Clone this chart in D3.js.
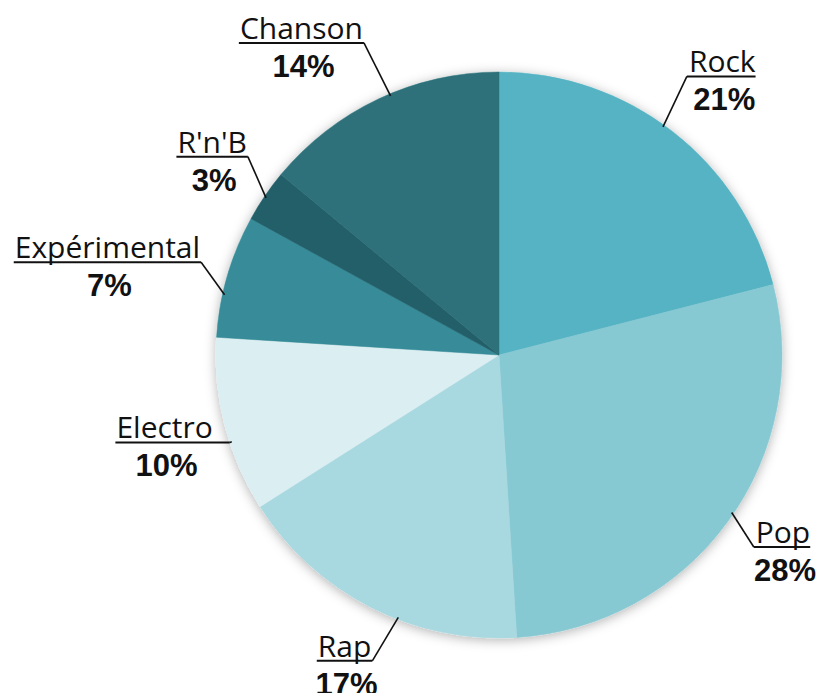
<!DOCTYPE html>
<html>
<head>
<meta charset="utf-8">
<script src="https://cdn.jsdelivr.net/npm/d3@7"></script>
<style>
  body { margin: 0; background: #fff; }
  .name { font-family: "Open Sans", sans-serif; font-size: 30px; fill: #111; }
  .pct { font-family: "Liberation Sans", Arial, sans-serif; font-weight: bold; font-size: 31px; fill: #111; }
</style>
</head>
<body>
<div id="chart"></div>
<script>
// data
let genres = ["Rock", "Pop", "Rap", "Electro", "Expérimental", "R'n'B", "Chanson"];
let shares = [21, 28, 17, 10, 7, 3, 14];
let colors = ["#54b3c3", "#86c9d3", "#a9d9e0", "#dbeef2", "#378c99", "#245f68", "#2d717a"];

// label layout: leader start angle, elbow angle (deg, clockwise from top), elbow radius
let leadA = [35.7, 124.1, 201, 252, 282.4, 304, 337.3];
let elbowA = [34, 127, 202.5, 252, 287.3, 308.3, 336.6];
let elbowR = [336, 319, 331, 283, 312, 320, 340];

let w = 820, h = 693;
let cx = 499, cy = 355, r = 283;

let svg = d3.select("#chart").append("svg")
    .attr("width", w)
    .attr("height", h);

let defs = svg.append("defs");
let f = defs.append("filter").attr("id", "shadow")
    .attr("x", "-20%").attr("y", "-20%").attr("width", "140%").attr("height", "140%");
f.append("feDropShadow")
    .attr("dx", 0).attr("dy", 2)
    .attr("stdDeviation", 6)
    .attr("flood-color", "#000")
    .attr("flood-opacity", 0.3);

let data = genres.map((g, i) => ({ name: g, value: shares[i], color: colors[i], la: leadA[i], ea: elbowA[i], er: elbowR[i] }));

let pie = d3.pie().sort(null).value(d => d.value);
let arc = d3.arc().innerRadius(0).outerRadius(r);

let g = svg.append("g").attr("transform", "translate(" + cx + "," + cy + ")");

g.append("g").attr("filter", "url(#shadow)")
  .selectAll("path")
  .data(pie(data))
  .enter()
  .append("path")
  .attr("d", arc)
  .attr("fill", d => d.data.color)
  .attr("stroke", d => d.data.color)
  .attr("stroke-width", 0.5);

let rad = deg => deg * Math.PI / 180;

// labels
let labels = g.append("g");
pie(data).forEach(d => {
    let la = rad(d.data.la), ea = rad(d.data.ea);
    let sx = Math.sin(la) * (r - 2), sy = -Math.cos(la) * (r - 2);
    let ex = Math.sin(ea) * d.data.er, ey = -Math.cos(ea) * d.data.er;
    let right = Math.sin(ea) > 0;

    let lg = labels.append("g");
    let t = lg.append("text")
        .attr("class", "name")
        .attr("y", ey - 4)
        .text(d.data.name);
    let tw = t.node().getComputedTextLength();
    let x0, x1, tx;
    if (right) {
        x0 = ex; x1 = ex + tw + 2;
        tx = ex + 2;
    } else {
        x1 = ex; x0 = ex - tw - 2;
        tx = ex - tw - 1;
    }
    if (d.data.name === "Electro") {
        x0 = ex - tw - 18;
        tx = ex - tw - 17;
    }
    t.attr("x", tx);
    lg.append("line")
        .attr("x1", x0).attr("x2", x1)
        .attr("y1", ey).attr("y2", ey)
        .attr("stroke", "#111").attr("stroke-width", 2);
    if (Math.abs(ex - sx) > 1 || Math.abs(ey - sy) > 1) {
        lg.append("line")
            .attr("x1", sx).attr("y1", sy)
            .attr("x2", ex).attr("y2", ey)
            .attr("stroke", "#111").attr("stroke-width", 1.6);
    }
    lg.append("text")
        .attr("class", "pct")
        .attr("text-anchor", "middle")
        .attr("x", tx + tw / 2 + 2)
        .attr("y", ey + 34)
        .text(d.data.value + "%");
});
</script>
</body>
</html>
